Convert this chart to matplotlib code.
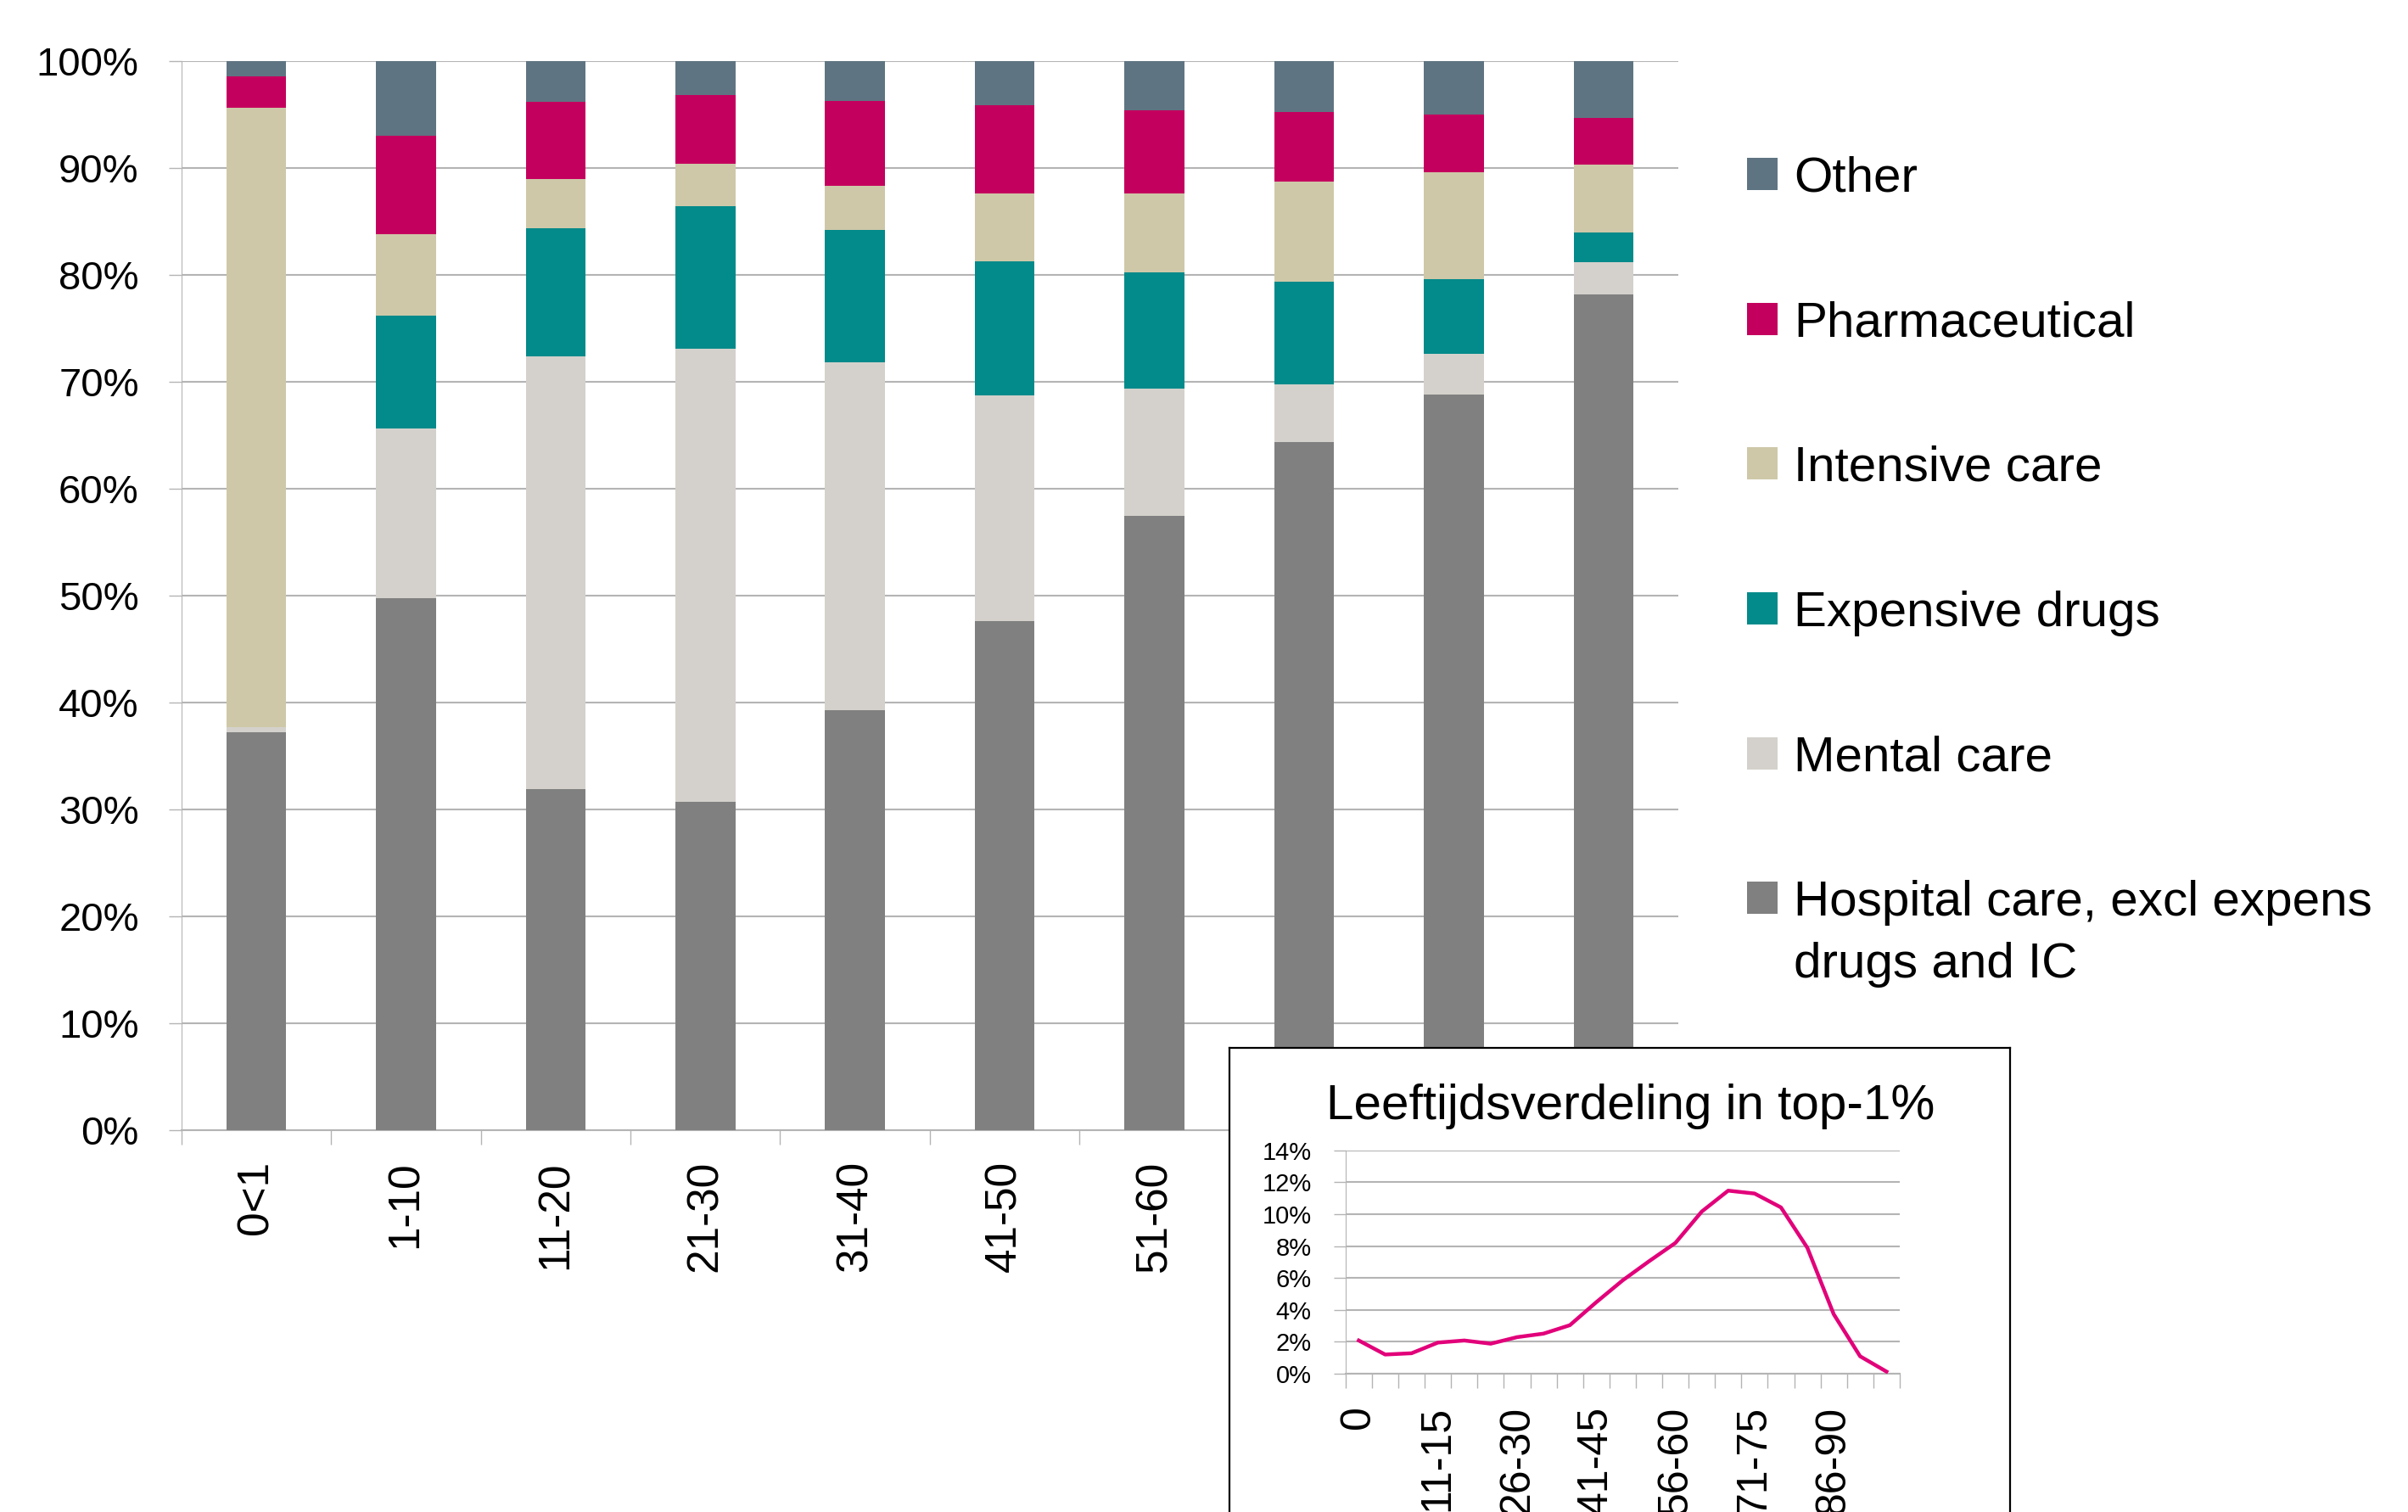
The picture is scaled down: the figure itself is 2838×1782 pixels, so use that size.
import matplotlib.pyplot as plt
import numpy as np
from matplotlib import font_manager

# font: try a narrow sans first (closest to Calibri), fall back to DejaVu
names = {f.name for f in font_manager.fontManager.ttflist}
fam = [f for f in ['Liberation Sans Narrow', 'Liberation Sans', 'DejaVu Sans'] if f in names]
plt.rcParams['font.family'] = fam

# ---- data ----
age_groups = ['0<1', '1-10', '11-20', '21-30', '31-40', '41-50', '51-60', '61-70', '71-80', '81+']
hospital = [37.2, 49.8, 31.9, 30.7, 39.3, 47.6, 57.5, 64.4, 68.8, 78.2]
mental = [0.5, 15.8, 40.5, 42.4, 32.5, 21.1, 11.9, 5.4, 3.8, 3.0]
expensive = [0.0, 10.6, 12.0, 13.3, 12.4, 12.6, 10.8, 9.6, 7.0, 2.8]
intensive = [57.9, 7.6, 4.6, 4.0, 4.1, 6.3, 7.4, 9.3, 10.0, 6.3]
pharma = [3.0, 9.2, 7.2, 6.4, 8.0, 8.3, 7.8, 6.5, 5.4, 4.4]
other = [1.4, 7.0, 3.8, 3.2, 3.7, 4.1, 4.6, 4.8, 5.0, 5.3]

series_names = ['Hospital care, excl expens', 'Mental care', 'Expensive drugs',
                'Intensive care', 'Pharmaceutical', 'Other']
hospital_line2 = 'drugs and IC'
series_colors = ['#808080', '#D4D1CC', '#038A8A', '#CEC8A8', '#C4005E', '#5F7482']

inset_ages = ['0', '1-5', '6-10', '11-15', '16-20', '21-25', '26-30', '31-35', '36-40', '41-45',
              '46-50', '51-55', '56-60', '61-65', '66-70', '71-75', '76-80', '81-85', '86-90',
              '91-95', '96+']
inset_share = [2.08, 1.2, 1.28, 1.95, 2.08, 1.88, 2.29, 2.51, 3.04, 4.48, 5.85, 7.05, 8.2,
               10.17, 11.48, 11.3, 10.43, 7.9, 3.73, 1.09, 0.13]

grid_col = '#B4B4B4'
box_left = 0.5106  # left edge of the inset frame, figure fraction

fig = plt.figure(figsize=(28.38, 17.82), dpi=100)
ax = fig.add_axes([0.0753, 0.2525, 0.6217, 0.7071])

x = np.arange(len(age_groups))
bottom = np.zeros(len(age_groups))
for vals, name, col in zip([hospital, mental, expensive, intensive, pharma, other],
                           series_names, series_colors):
    ax.bar(x, vals, bottom=bottom, width=0.4, color=col, label=name, zorder=3)
    bottom += np.array(vals)

ax.set_xlim(-0.5, len(age_groups) - 0.5)
ax.set_ylim(0, 100)
ax.set_yticks(np.arange(0, 101, 10))
ax.set_yticklabels([f'{v}%' for v in range(0, 101, 10)], fontsize=34)
ax.yaxis.grid(True, color=grid_col, lw=1.5, zorder=0)
ax.set_xticks(np.arange(len(age_groups) + 1) - 0.5)
ax.set_xticklabels([])
ax.set_xticks(x, minor=True)
ax.set_xticklabels(age_groups, minor=True, rotation=90, fontsize=37, va='top')
ax.tick_params(axis='x', which='major', length=12, color=grid_col, width=1)
ax.tick_params(axis='x', which='minor', length=0, pad=26)
ax.tick_params(axis='y', length=11, color=grid_col, width=1, pad=25)
for s in ['top', 'right']:
    ax.spines[s].set_visible(False)
ax.spines['left'].set_color(grid_col)
ax.spines['bottom'].set_color(grid_col)
ax.spines['bottom'].set_linewidth(1.5)

handles, labels = ax.get_legend_handles_labels()
leg = fig.legend(handles[::-1], labels[::-1], loc='upper left', bbox_to_anchor=(0.7255, 0.897),
                 frameon=False, fontsize=42, handlelength=0.62, handleheight=0.62,
                 handletextpad=0.33, labelspacing=2.0, borderpad=0, borderaxespad=0)

# second line of the long legend label, placed under the first one
fig.canvas.draw()
t_last = leg.get_texts()[-1]
bb = t_last.get_window_extent().transformed(fig.transFigure.inverted())
fig.text(bb.x0, bb.y0 - 0.011, hospital_line2, fontsize=42, ha='left', va='top')

# category labels that sit under the inset frame are covered in the original
for lab in ax.get_xticklabels(minor=True):
    ext = lab.get_window_extent().transformed(fig.transFigure.inverted())
    if ext.x0 > box_left:
        lab.set_visible(False)

# inset frame
box = fig.add_axes([box_left, -0.02, 0.3242, 0.327])
box.set_xticks([])
box.set_yticks([])
for s in box.spines.values():
    s.set_color('black')
    s.set_linewidth(1.6)
box.text(0.514, 0.855, 'Leeftijdsverdeling in top-1%', transform=box.transAxes,
         ha='center', va='baseline', fontsize=42)

ins = fig.add_axes([0.5588, 0.0915, 0.2301, 0.1476])
xi = np.arange(len(inset_ages))
ins.plot(xi, inset_share, color='#E2007A', lw=3.2, zorder=3)
ins.set_xlim(-0.5, len(inset_ages) - 0.5)
ins.set_ylim(0, 14)
ins.set_yticks(np.arange(0, 15, 2))
ins.set_yticklabels([f'{v}%' for v in range(0, 15, 2)], fontsize=21)
ins.yaxis.grid(True, color=grid_col, lw=1.5, zorder=0)
ins.set_xticks(np.arange(len(inset_ages) + 1) - 0.5)
ins.set_xticklabels([])
ins.set_xticks(xi[::3], minor=True)
ins.set_xticklabels(inset_ages[::3], minor=True, rotation=90, fontsize=36, va='top')
ins.tick_params(axis='x', which='major', length=12, color=grid_col, width=1)
ins.tick_params(axis='x', which='minor', length=0, pad=27)
ins.tick_params(axis='y', length=10, color=grid_col, width=1, pad=19)
for s in ['top', 'right']:
    ins.spines[s].set_visible(False)
ins.spines['left'].set_color(grid_col)
ins.spines['bottom'].set_color(grid_col)
ins.spines['bottom'].set_linewidth(1.5)
ins.patch.set_alpha(0)

fig.savefig('out.png', dpi=100)
